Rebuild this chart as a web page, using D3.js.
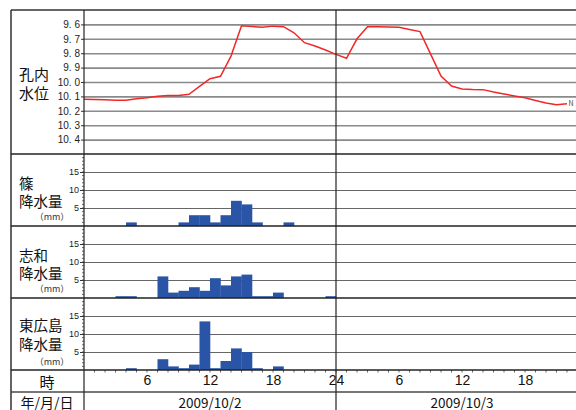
<!DOCTYPE html>
<html><head><meta charset="utf-8">
<script src="https://cdn.jsdelivr.net/npm/d3@7"></script>
<style>body{margin:0;background:#fff} svg{display:block;font-family:"Noto Sans CJK JP","Noto Sans",sans-serif}</style>
</head><body><svg id="c" width="576" height="410"></svg>
<script>
// ---- data ----
const waterLevel = [10.12,10.122,10.124,10.126,10.127,10.117,10.109,10.099,10.093,10.093,10.085,10.031,9.977,9.96,9.82,9.61,9.615,9.62,9.612,9.616,9.658,9.727,9.75,9.778,9.808,9.835,9.70,9.616,9.617,9.618,9.62,9.635,9.65,9.805,9.958,10.028,10.049,10.052,10.053,10.07,10.083,10.097,10.11,10.128,10.146,10.158,10.151];
const rainShino = [0,0,0,0,1,0,0,0,0,1,3,3,1,3,7,6,1,0,0,1,0,0,0,0, 0,0,0,0,0,0,0,0,0,0,0,0,0,0,0,0,0,0,0,0,0,0,0,0];
const rainShiwa = [0,0,0,0.5,0.5,0,0,6,1.5,2,3,2,5.5,3.5,6,6.5,0.5,0.5,1.5,0,0,0,0,0.5, 0,0,0,0,0,0,0,0,0,0,0,0,0,0,0,0,0,0,0,0,0,0,0,0];
const rainHigashi = [0,0,0,0,0.5,0,0,3,1,0.5,1.5,13.5,0.5,2.5,6,5,0.5,0,1,0,0,0,0,0, 0,0,0,0,0,0,0,0,0,0,0,0,0,0,0,0,0,0,0,0,0,0,0,0];
const levelTicks = [9.6,9.7,9.8,9.9,10.0,10.1,10.2,10.3,10.4];
const rainTicks = [5,10,15];
const hourTicks = [6,12,18,24,30,36,42];
const dates = ["2009/10/2","2009/10/3"];
const levelLabel = ["孔内","水位"];
const rainLabels = [["篠","降水量"],["志和","降水量"],["東広島","降水量"]];
const unitLabel = "（mm）";
const hourLabel = "時";
const dateLabel = "年/月/日";
const stationNote = "N";

// ---- layout ----
const svg = d3.select("#c");
svg.append("rect").attr("width",576).attr("height",410).attr("fill","#fff");
const X0 = 84, XR = 588, LEFT = 11, TOP = 10;
const x = d3.scaleLinear().domain([0,48]).range([X0, XR]);
const yL = d3.scaleLinear().domain([9.5,10.5]).range([10,154]);
const panelTops = [154,226,298];
const rainSeries = [rainShino, rainShiwa, rainHigashi];

// top panel gridlines
const gTop = svg.append("g").attr("transform",`translate(${X0},0)`);
gTop.call(d3.axisLeft(yL).tickValues(levelTicks).tickSize(-(XR-X0)).tickFormat(""))
  .call(g=>g.select(".domain").remove())
  .call(g=>g.selectAll("line").attr("stroke","#8a8a8a").attr("stroke-width",1.6));
const gTopL = svg.append("g").attr("transform",`translate(${X0},0)`);
gTopL.call(d3.axisLeft(yL).tickValues(levelTicks).tickSize(3).tickPadding(1)
    .tickFormat(d=>d.toFixed(1).replace(".",". ")))
  .call(g=>g.select(".domain").remove())
  .call(g=>g.selectAll("line").attr("stroke","#333"))
  .call(g=>g.selectAll("text").attr("font-size",10).attr("fill","#222")
        .attr("xml:space","preserve"));

// water level line
const line = d3.line().x((d,i)=>x(i)).y(d=>yL(d));
svg.append("path").datum(waterLevel).attr("d",line)
  .attr("fill","none").attr("stroke","#f02828").attr("stroke-width",1.5);
svg.append("text").attr("x",x(waterLevel.length-1)+1.5).attr("y",yL(waterLevel[waterLevel.length-1])+2.5)
  .attr("font-size",7).attr("fill","#444").text(stationNote);

// rain panels
rainSeries.forEach((vals, k)=>{
  const top = panelTops[k];
  const yR = d3.scaleLinear().domain([0,20]).range([top+72, top]);
  const g = svg.append("g").attr("transform",`translate(${X0},0)`);
  g.call(d3.axisLeft(yR).tickValues(rainTicks).tickSize(-(XR-X0)).tickFormat(""))
    .call(s=>s.select(".domain").remove())
    .call(s=>s.selectAll("line").attr("stroke","#666").attr("stroke-width",1.1));
  const gl = svg.append("g").attr("transform",`translate(${X0},0)`);
  gl.call(d3.axisLeft(yR).tickValues(rainTicks).tickSize(4).tickPadding(1))
    .call(s=>s.select(".domain").remove())
    .call(s=>s.selectAll("line").attr("stroke","#333"))
    .call(s=>s.selectAll("text").attr("font-size",9).attr("fill","#222"));
  svg.append("g").selectAll("line").data(d3.range(1,20)).join("line")
    .attr("x1",X0-2).attr("x2",X0).attr("y1",d=>yR(d)).attr("y2",d=>yR(d))
    .attr("stroke","#444").attr("stroke-width",0.8);
  svg.append("g").selectAll("rect").data(vals.map((v,i)=>({v,i})).filter(d=>d.v>0)).join("rect")
    .attr("x",d=>x(d.i)).attr("width",d=>x(d.i+1)-x(d.i)+0.3)
    .attr("y",d=>yR(d.v)).attr("height",d=>yR(0)-yR(d.v))
    .attr("fill","#2a55a6");
  const lab = rainLabels[k];
  const ly = [[182,200,216],[254,272,288],[324,343,361]][k];
  svg.append("text").attr("x",19).attr("y",ly[0]).attr("dominant-baseline","central")
    .attr("font-size",14.5).attr("fill","#111").text(lab[0]);
  svg.append("text").attr("x",19).attr("y",ly[1]).attr("dominant-baseline","central")
    .attr("font-size",14.5).attr("fill","#111").text(lab[1]);
  svg.append("text").attr("x",52).attr("y",ly[2]).attr("dominant-baseline","central")
    .attr("text-anchor","middle").attr("font-size",9).attr("fill","#333").text(unitLabel);
});

// top panel label
svg.append("text").attr("x",19).attr("y",73).attr("dominant-baseline","central")
  .attr("font-size",15).attr("fill","#111").text(levelLabel[0]);
svg.append("text").attr("x",19).attr("y",92).attr("dominant-baseline","central")
  .attr("font-size",15).attr("fill","#111").text(levelLabel[1]);

// hour axis
const gx = svg.append("g").attr("transform","translate(0,370)");
gx.call(d3.axisBottom(x).tickValues(hourTicks).tickSize(0).tickPadding(5)
    .tickFormat(d=> (d%24===0? 24 : d%24)))
  .call(s=>s.select(".domain").remove())
  .call(s=>s.selectAll("text").attr("font-size",14).attr("fill","#111"));
svg.append("g").selectAll("line").data(d3.range(1,48)).join("line")
  .attr("x1",d=>x(d)).attr("x2",d=>x(d)).attr("y1",370).attr("y2",372.5)
  .attr("stroke","#444").attr("stroke-width",0.8);
svg.append("text").attr("x",47).attr("y",381).attr("dominant-baseline","central")
  .attr("text-anchor","middle").attr("font-size",15).attr("fill","#111").text(hourLabel);
svg.append("text").attr("x",47).attr("y",402).attr("dominant-baseline","central")
  .attr("text-anchor","middle").attr("font-size",14).attr("fill","#111").text(dateLabel);
svg.append("g").selectAll("text").data(dates).join("text")
  .attr("x",(d,i)=>x(i*24+12)).attr("y",402).attr("dominant-baseline","central")
  .attr("text-anchor","middle").attr("font-size",13.5).attr("fill","#111").text(d=>d);

// frame lines
[[10,"#333",1.6],[154,"#222",1.4],[226,"#222",1.4],[298,"#222",1.4],[370,"#222",1.4],[392,"#777",1.8]].forEach(([y,c,w])=>{
  svg.append("line").attr("x1",LEFT).attr("x2",XR).attr("y1",y).attr("y2",y).attr("stroke",c).attr("stroke-width",w);
});
[[LEFT,"#222",1.4],[X0,"#222",1.2],[x(24),"#222",1.2]].forEach(([xx,c,w])=>{
  svg.append("line").attr("x1",xx).attr("x2",xx).attr("y1",TOP).attr("y2",410).attr("stroke",c).attr("stroke-width",w);
});
</script></body></html>
